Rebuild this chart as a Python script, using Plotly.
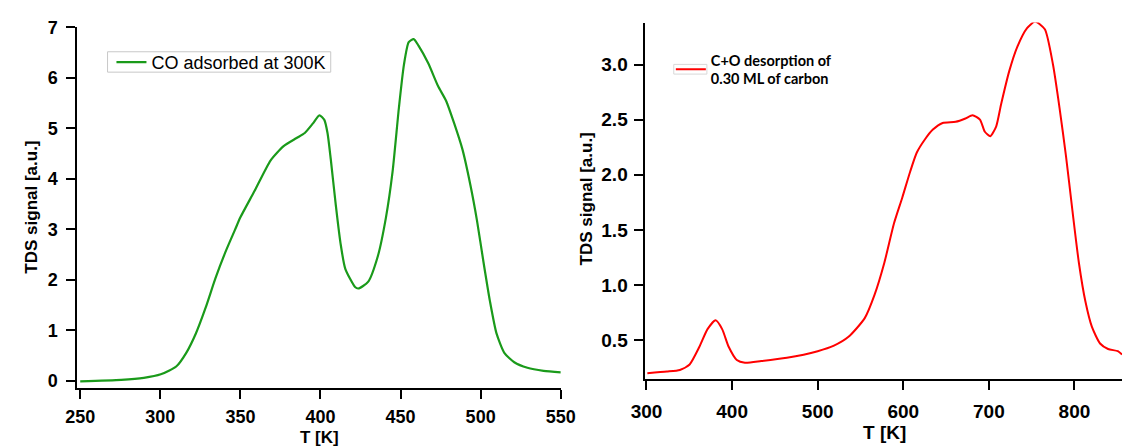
import plotly.graph_objects as go

# ---- Left panel: CO adsorbed at 300K ----
T_co = [250, 275.6, 289.7, 300.3, 310.1, 316.1, 322.2, 328.3, 334.4, 340.5, 346.6, 350.0,
        358.8, 368.9, 377.0, 385.1, 390.2, 395.3, 399.3, 402.4, 404.4, 406.4, 409.5, 412.5,
        415.5, 421.6, 423.6, 429.7, 435.8, 440.9, 445.0, 449.0, 452.1, 455.1, 458.2, 461.2,
        467.3, 473.4, 478.4, 483.5, 488.6, 493.6, 497.7, 501.8, 505.8, 509.9, 514.9, 521.0,
        529.2, 539.3, 550.1]
S_co = [-0.01, 0.02, 0.06, 0.13, 0.29, 0.55, 0.94, 1.45, 2.03, 2.54, 2.99, 3.24,
        3.76, 4.37, 4.65, 4.81, 4.91, 5.10, 5.26, 5.17, 4.91, 4.40, 3.50, 2.73,
        2.22, 1.86, 1.83, 1.96, 2.47, 3.24, 4.14, 5.42, 6.26, 6.71, 6.77, 6.64,
        6.29, 5.84, 5.55, 5.10, 4.59, 3.88, 3.18, 2.35, 1.58, 0.94, 0.55, 0.37,
        0.26, 0.20, 0.17]

# ---- Right panel: C+O desorption of 0.30 ML of carbon ----
T_c = [301, 323.9, 339, 350.4, 361.8, 371.3, 380.8, 388.4, 396, 405.5, 415, 434, 464, 500,
       519, 536, 555, 566.4, 577.8, 589.2, 598.7, 608.1, 615.7, 625.2, 634.6, 646, 661.2,
       672.6, 680.9, 689.6, 695.3, 701.7, 708.6, 714.3, 723.8, 733.2, 744.6, 754, 765.4,
       774.9, 782.5, 790.1, 797.7, 805.2, 812.8, 820.4, 829.9, 839.3, 850.7, 855.6]
S_c = [0.20, 0.215, 0.23, 0.28, 0.44, 0.60, 0.68, 0.60, 0.44, 0.32, 0.295, 0.31, 0.34, 0.40,
       0.45, 0.53, 0.70, 0.91, 1.20, 1.56, 1.79, 2.03, 2.20, 2.32, 2.41, 2.47, 2.48,
       2.51, 2.54, 2.50, 2.39, 2.35, 2.44, 2.64, 2.94, 3.16, 3.33, 3.39, 3.32,
       3.00, 2.61, 2.17, 1.67, 1.20, 0.85, 0.62, 0.47, 0.42, 0.40, 0.37]

left_xticks = [250, 300, 350, 400, 450, 500, 550]
left_yticks = [0, 1, 2, 3, 4, 5, 6, 7]
right_xticks = [300, 400, 500, 600, 700, 800]
right_yticks = [0.5, 1.0, 1.5, 2.0, 2.5, 3.0]

W, H = 1139, 448
def px(x):
    return x / W
def py(y):
    return 1 - y / H

FONT = "Liberation Sans"
tick_left = dict(family=FONT, size=18, color="black", weight="bold")
tick_right = dict(family=FONT, size=19, color="black", weight="bold")

fig = go.Figure()
fig.add_trace(go.Scatter(x=T_co, y=S_co, mode="lines", line=dict(color="#1a9a1a", width=2.2, shape="spline", smoothing=0.6),
                         name="CO adsorbed at 300K", xaxis="x", yaxis="y", legend="legend"))
fig.add_trace(go.Scatter(x=T_c, y=S_c, mode="lines", line=dict(color="#ff0000", width=2, shape="spline", smoothing=0.6),
                         name="C+O desorption of<br>0.30 ML of carbon", xaxis="x2", yaxis="y2", legend="legend2"))

axis_common = dict(showline=True, linecolor="black", linewidth=2, ticks="outside", ticklen=9,
                   tickwidth=2, tickcolor="black", showgrid=False, zeroline=False)

fig.update_layout(
    width=W, height=H, margin=dict(l=0, r=0, t=0, b=0),
    paper_bgcolor="white", plot_bgcolor="white",
    xaxis=dict(domain=[px(65), px(561)], range=[248.2, 550], tickvals=left_xticks, anchor="y",
               tickfont=tick_left, ticklabelstandoff=3, **axis_common),
    yaxis=dict(domain=[py(389), py(18)], range=[-0.135, 7], tickvals=left_yticks, anchor="x",
               tickfont=tick_left, ticklabelstandoff=5, **axis_common),
    xaxis2=dict(domain=[px(647), px(1137)], range=[297.7, 855.6], tickvals=right_xticks, anchor="y2",
                tickfont=tick_right, ticklabelstandoff=5, **axis_common),
    yaxis2=dict(domain=[py(380), py(13)], range=[0.148, 3.38], tickvals=right_yticks, tickformat=".1f", anchor="x2",
                tickfont=tick_right, ticklabelstandoff=2, **axis_common),
    legend=dict(x=px(100), y=py(35), xanchor="left", yanchor="top", borderwidth=0,
                bgcolor="rgba(0,0,0,0)", font=dict(family=FONT, size=18, color="black")),
    legend2=dict(x=px(674), y=py(35), xanchor="left", yanchor="top", borderwidth=0, bgcolor="rgba(0,0,0,0)",
                 font=dict(family="Lato", size=14.5, color="black", weight="bold")),
    showlegend=True,
)

title_font = dict(family=FONT, size=17, color="black", weight="bold")
fig.add_annotation(text="TDS signal [a.u.]", x=px(18), y=py(203), xref="paper", yref="paper", textangle=-90,
                   xanchor="center", yanchor="middle", showarrow=False, font=title_font)
fig.add_annotation(text="T [K]", x=px(313), y=py(440), xref="paper", yref="paper", showarrow=False,
                   xanchor="center", yanchor="middle", font=dict(family=FONT, size=17, color="black", weight="bold"))
fig.add_annotation(text="TDS signal [a.u.]", x=px(587), y=py(195), xref="paper", yref="paper", textangle=-90,
                   xanchor="center", yanchor="middle", showarrow=False, font=title_font)
fig.add_annotation(text="T [K]", x=px(893), y=py(435), xref="paper", yref="paper", showarrow=False,
                   xanchor="center", yanchor="middle", font=dict(family=FONT, size=19, color="black", weight="bold"))

# legend frames
fig.add_shape(type="rect", xref="paper", yref="paper", x0=px(96), x1=px(325), y0=py(64), y1=py(43),
              line=dict(color="#c8c8c8", width=1), layer="below")
fig.add_shape(type="rect", xref="paper", yref="paper", x0=px(677), x1=px(711), y0=py(66), y1=py(56),
              line=dict(color="#d8d8d8", width=1), layer="below")

fig.write_html("out.html")
